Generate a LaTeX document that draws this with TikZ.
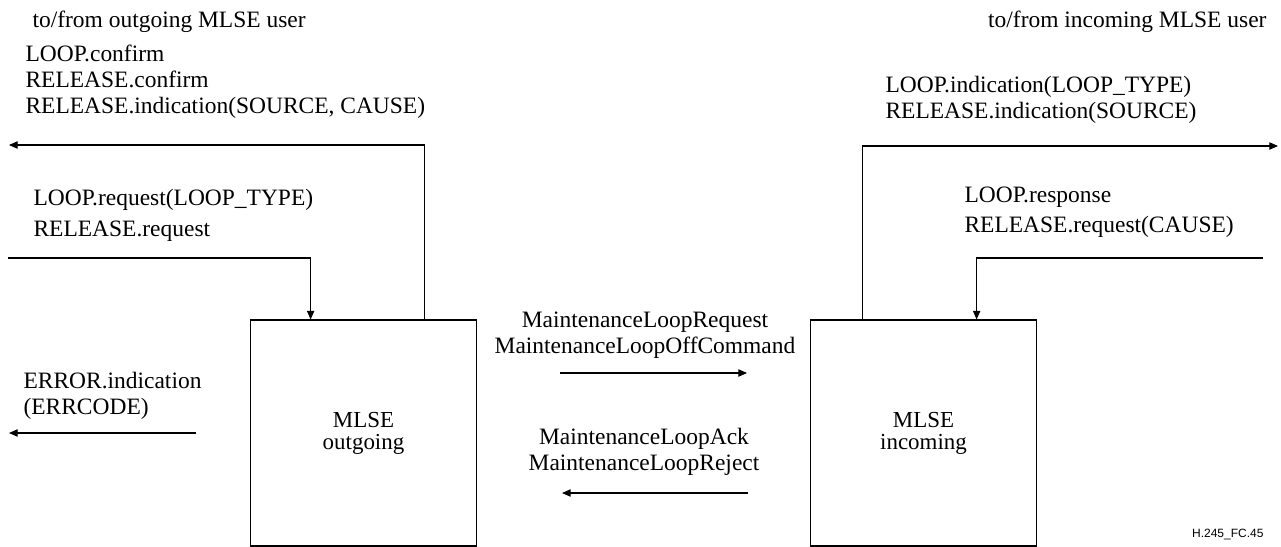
\documentclass[tikz,border=0pt]{standalone}
\usepackage{fontspec}
\setmainfont{Liberation Serif}
\newfontfamily\figfont{Liberation Sans}
\usetikzlibrary{positioning,arrows.meta,calc}

\begin{document}
\begin{tikzpicture}[
  x=0.75pt, y=-0.75pt,
  >={Triangle[length=6.5pt, width=5.5pt]},
  line width=0.8pt,
  mlse/.style={draw, minimum width=170pt, minimum height=169.5pt, align=center, inner sep=0pt,
               font=\fontsize{17.2}{16.5}\selectfont},
  prim/.style={inner sep=0pt, anchor=base west, align=left, font=\fontsize{17.6}{19.5}\selectfont},
  user/.style={inner sep=0pt, font=\fontsize{17.6}{19.5}\selectfont},
  msg/.style={inner sep=0pt, anchor=base, align=center, font=\fontsize{17.6}{19.5}\selectfont},
  figid/.style={inner sep=0pt, anchor=base east, font=\figfont\fontsize{9}{11}\selectfont}
]
\useasboundingbox (0,0) rectangle (1281,546);

% ---------- entities ----------
\node[mlse] (out) at (363.5,433) {MLSE\\outgoing};
\node[mlse] (in)  at (923.5,433) {MLSE\\incoming};

% ---------- user side texts ----------
\node[user, anchor=base west] (outuser) at (32,27) {to/from outgoing MLSE user};
\node[user, anchor=base east] (inuser) at (1267,27) {to/from incoming MLSE user};

% (base = baseline of the last line)
\node[prim] (ocnf) at (25,113) {LOOP.confirm\\RELEASE.confirm\\RELEASE.indication(SOURCE, CAUSE)};
\node[prim] (oreq) at (33,236) {LOOP.request(LOOP\_TYPE)\\[3.5pt]RELEASE.request};
\node[prim] (oerr) at (23,414) {ERROR.indication\\(ERRCODE)};
\node[prim] (iind) at (885,118) {LOOP.indication(LOOP\_TYPE)\\RELEASE.indication(SOURCE)};
\node[prim] (iresp) at (964,232) {LOOP.response\\[2.3pt]RELEASE.request(CAUSE)};

% ---------- peer messages ----------
\node[msg] (mreq) at (645,353) {MaintenanceLoopRequest\\MaintenanceLoopOffCommand};
\node[msg] (mack) at (644,470) {MaintenanceLoopAck\\MaintenanceLoopReject};

\node[figid] (fig) at (1264,537) {H.245\_FC.45};

% ---------- arrows ----------
\coordinate (ocnfend) at (9,145);
\coordinate (oreqbeg) at (8,258);
\coordinate (oerrbeg) at (196,433);
\coordinate (oerrend) at (9,433);
\coordinate (iindend) at (1278,146);
\coordinate (irespbeg) at (1263,258);
\coordinate (mreqbeg) at (560,373);
\coordinate (mreqend) at (747,373);
\coordinate (mackbeg) at (748,493);
\coordinate (mackend) at (562,493);

\draw[->] ($(out.north east)+(-53,0)$) |- (ocnfend);
\draw[->] (oreqbeg) -| ($(out.north west)+(61,0)$);
\draw[->] (oerrbeg) -- (oerrend);
\draw[->] ($(in.north west)+(53,0)$) |- (iindend);
\draw[->] (irespbeg) -| ($(in.north west)+(167,0)$);
\draw[->] (mreqbeg) -- (mreqend);
\draw[->] (mackbeg) -- (mackend);
\end{tikzpicture}
\end{document}
